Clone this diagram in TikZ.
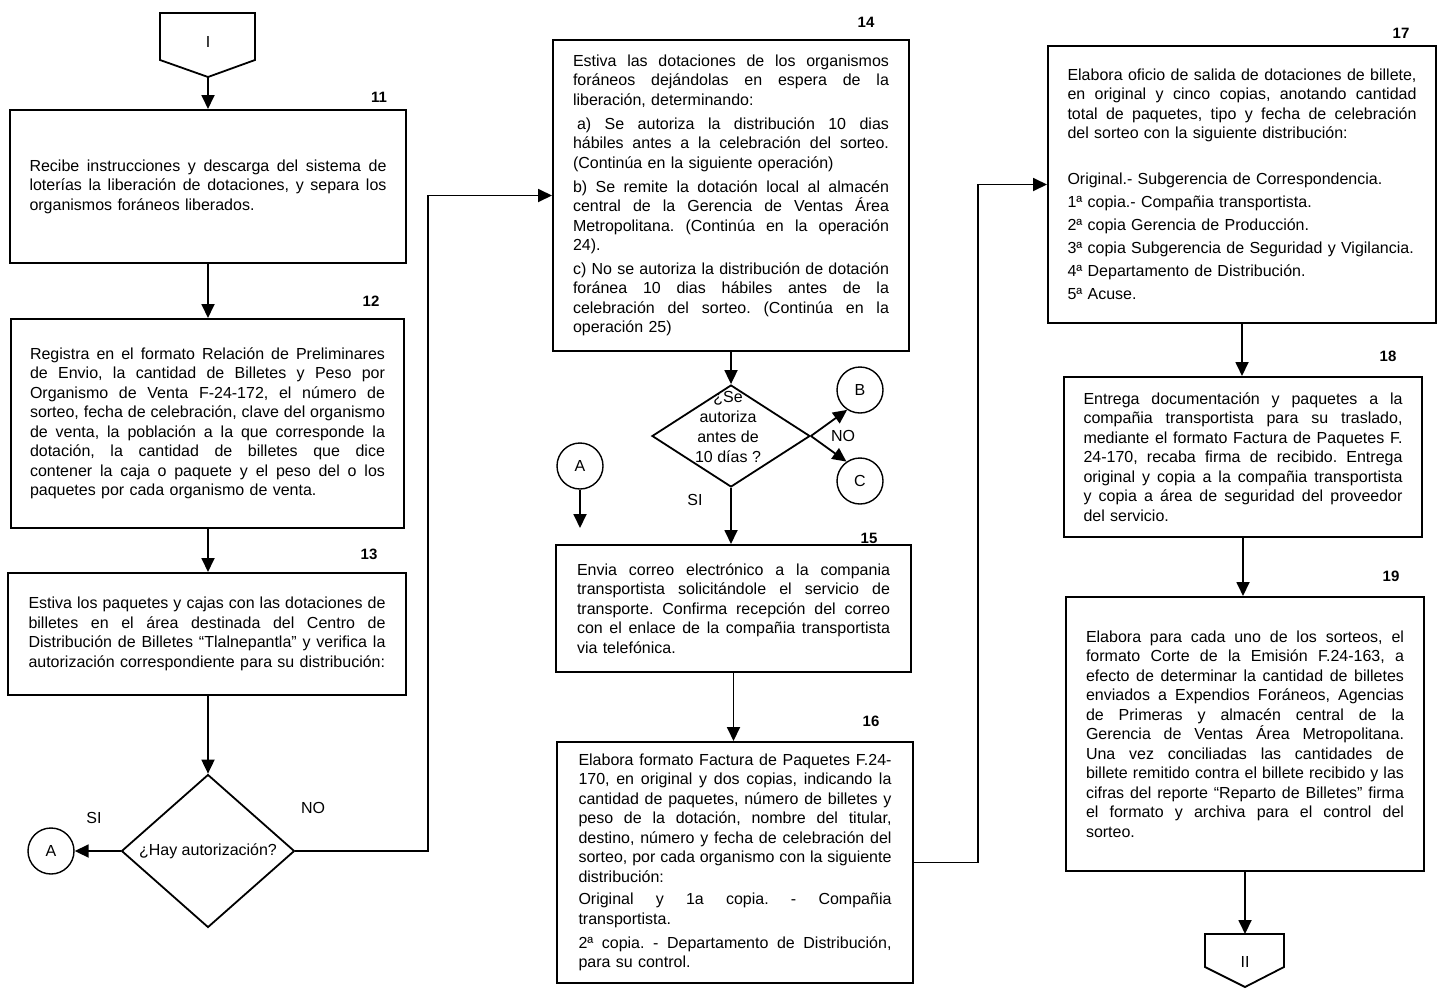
\documentclass[tikz,border=0pt]{standalone}
\usepackage{fontspec}
\setmainfont{Liberation Sans}
\usetikzlibrary{arrows.meta,shapes.geometric}

% body text of the process boxes
\newcommand\boxfont{\fontsize{16}{19.5}\selectfont\parindent=0pt\frenchspacing}
% width of the text block inside the current box
\newlength\lw
% one fully justified line
\newcommand\jl[1]{\noindent\hbox to \lw{\spaceskip=0.278em plus 1fil\relax #1}\par}
% extra space between paragraphs
\newcommand\pgap[1]{\par\vspace{#1}}

\begin{document}
\begin{tikzpicture}[x=1pt,y=-1pt,
  proc/.style={draw, line width=2pt, inner sep=0pt, font=\boxfont, align=left},
  conn/.style={draw, circle, line width=1.4pt, minimum size=46pt, inner sep=0pt,
               font=\fontsize{16}{19}\selectfont},
  dec/.style={draw, diamond, line width=1.8pt, inner sep=0pt},
  num/.style={font=\bfseries\fontsize{15}{18}\selectfont},
  lbl/.style={font=\fontsize{16}{19}\selectfont},
  arr/.style={line width=1.8pt, -{Triangle[length=14pt,width=13pt]}},
  ln/.style={line width=1.8pt, line join=miter},
]
\useasboundingbox (0,0) rectangle (1437,996);

% ---------- start connector ----------
\coordinate (Itip) at (208,77);
\draw[ln] (160,13) -- (255,13) -- (255,60) -- (Itip) -- (160,60) -- cycle;
\node[lbl] (Ilbl) at (208,42) {I};

% ---------- left column ----------
\node[num] (n11) at (379,97) {11};
\node[proc, minimum width=396pt, minimum height=153pt, text width=357pt] (b11) at (208,186.5) {%
\setlength\lw{357pt}%
\jl{Recibe instrucciones y descarga del sistema de}
\jl{loterías la liberación de dotaciones, y separa los}
organismos foráneos liberados.\par};

\node[num] (n12) at (371,301) {12};
\node[proc, minimum width=393pt, minimum height=209pt, text width=355pt] (b12) at (207.5,423.5) {%
\setlength\lw{355pt}%
\jl{Registra en el formato Relación de Preliminares}
\jl{de Envio, la cantidad de Billetes y Peso por}
\jl{Organismo de Venta F-24-172, el número de}
\jl{sorteo, fecha de celebración, clave del organismo}
\jl{de venta, la población a la que corresponde la}
\jl{dotación, la cantidad de billetes que dice}
\jl{contener la caja o paquete y el peso del o los}
paquetes por cada organismo de venta.\par};

\node[num] (n13) at (369,554) {13};
\node[proc, minimum width=398pt, minimum height=122pt, text width=357pt] (b13) at (207,634) {%
\setlength\lw{357pt}%
\jl{Estiva los paquetes y cajas con las dotaciones de}
\jl{billetes en el área destinada del Centro de}
\jl{Distribución de Billetes “Tlalnepantla” y verifica la}
autorización correspondiente para su distribución:\par};

\node[dec, minimum width=173pt, minimum height=143pt, font=\fontsize{16}{19}\selectfont]
  (d1) at (208,851) {¿Hay autorización?};
\node[conn] (A1) at (51,851) {A};
\node[lbl] (si1) at (94,818) {SI};
\node[lbl] (no1) at (313,808) {NO};

\draw[arr] (Itip) -- (b11.north);
\draw[arr] (b11.south) -- (b12.north -| b11.south);
\draw[arr] (b12.south -| b11.south) -- (b13.north -| b11.south);
\draw[arr] (b13.south -| d1.north) -- (d1.north);
\draw[arr] (d1.west) -- (A1.east);

% ---------- middle column ----------
\node[num] (n14) at (866,22) {14};
\node[proc, minimum width=356pt, minimum height=311pt, text width=316pt] (b14) at (731,195.5) {%
\setlength\lw{316pt}%
\jl{Estiva las dotaciones de los organismos}
\jl{foráneos dejándolas en espera de la}
liberación, determinando:\pgap{4.5pt}
\jl{\hspace*{4pt}a) Se autoriza la distribución 10 dias}
\jl{hábiles antes a la celebración del sorteo.}
(Continúa en la siguiente operación)\pgap{4.5pt}
\jl{b) Se remite la dotación local al almacén}
\jl{central de la Gerencia de Ventas Área}
\jl{Metropolitana. (Continúa en la operación}
24).\pgap{4pt}
\jl{c) No se autoriza la distribución de dotación}
\jl{foránea 10 dias hábiles antes de la}
\jl{celebración del sorteo. (Continúa en la}
operación 25)\par};

\node[dec, minimum width=158pt, minimum height=102pt] (d2) at (731,436) {};
\node[lbl, align=center, font=\fontsize{16}{19.7}\selectfont] (d2txt) at (728,427)
  {¿Se\\autoriza\\antes de\\10 días ?};
\node[conn] (B) at (860,390) {B};
\node[conn] (C) at (860,481) {C};
\node[lbl] (no2) at (843,436) {NO};
\node[lbl] (si2) at (695,500) {SI};

\node[conn] (A2) at (580,466) {A};
\coordinate (A2end) at (580,528);

\node[num] (n15) at (869,538) {15};
\node[proc, minimum width=355pt, minimum height=127pt, text width=313pt] (b15) at (733.5,608.5) {%
\setlength\lw{313pt}%
\jl{Envia correo electrónico a la compania}
\jl{transportista solicitándole el servicio de}
\jl{transporte. Confirma recepción del correo}
\jl{con el enlace de la compañia transportista}
via telefónica.\par};

\node[num] (n16) at (871,721) {16};
\node[proc, minimum width=356pt, minimum height=241pt, text width=313pt] (b16) at (735,862.5) {%
\setlength\lw{313pt}%
\jl{Elabora formato Factura de Paquetes F.24-}
\jl{170, en original y dos copias, indicando la}
\jl{cantidad de paquetes, número de billetes y}
\jl{peso de la dotación, nombre del titular,}
\jl{destino, número y fecha de celebración del}
\jl{sorteo, por cada organismo con la siguiente}
distribución:\pgap{3pt}
\jl{Original y 1a copia. - Compañia}
transportista.\pgap{4.5pt}
\jl{2ª copia. - Departamento de Distribución,}
para su control.\par};

% ---------- right column ----------
\node[num] (n17) at (1401,33) {17};
\node[proc, minimum width=388pt, minimum height=277pt, text width=349pt] (b17) at (1242,184.5) {%
\setlength\lw{349pt}%
\jl{Elabora oficio de salida de dotaciones de billete,}
\jl{en original y cinco copias, anotando cantidad}
\jl{total de paquetes, tipo y fecha de celebración}
del sorteo con la siguiente distribución:\par
\vspace{23pt}
{\fontsize{16}{23}\selectfont
Original.- Subgerencia de Correspondencia.\par
1ª copia.- Compañia transportista.\par
2ª copia Gerencia de Producción.\par
3ª copia Subgerencia de Seguridad y Vigilancia.\par
4ª Departamento de Distribución.\par
5ª Acuse.\par}};

\draw[arr] (d1.east) -- (428,851) |- (b14.west);
\draw[arr] (b14.south) -- (d2.north);
\draw[arr] (d2.east) -- (B.237);
\draw[arr] (d2.east) -- (C.125);
\draw[arr] (d2.south) -- (d2.south |- b15.north);
\draw[arr] (A2.south) -- (A2end);
\draw[arr] (b15.south) -- (b15.south |- b16.north);
\draw[arr] (b16.east) -- (978,862.5) |- (b17.west);

\node[num] (n18) at (1388,356) {18};
\node[proc, minimum width=358pt, minimum height=160pt, text width=319pt] (b18) at (1243,457) {%
\setlength\lw{319pt}%
\jl{Entrega documentación y paquetes a la}
\jl{compañia transportista para su traslado,}
\jl{mediante el formato Factura de Paquetes F.}
\jl{24-170, recaba firma de recibido. Entrega}
\jl{original y copia a la compañia transportista}
\jl{y copia a área de seguridad del proveedor}
del servicio.\par};

\node[num] (n19) at (1391,576) {19};
\node[proc, minimum width=358pt, minimum height=274pt, text width=318pt] (b19) at (1245,734) {%
\setlength\lw{318pt}%
\jl{Elabora para cada uno de los sorteos, el}
\jl{formato Corte de la Emisión F.24-163, a}
\jl{efecto de determinar la cantidad de billetes}
\jl{enviados a Expendios Foráneos, Agencias}
\jl{de Primeras y almacén central de la}
\jl{Gerencia de Ventas Área Metropolitana.}
\jl{Una vez conciliadas las cantidades de}
\jl{billete remitido contra el billete recibido y las}
\jl{cifras del reporte “Reparto de Billetes” firma}
\jl{el formato y archiva para el control del}
sorteo.\par};

% ---------- end connector ----------
\coordinate (IItop) at (1245,934);
\draw[ln] (1205,934) -- (1284,934) -- (1284,967) -- (1245,987) -- (1205,967) -- cycle;
\node[lbl] (IIlbl) at (1245,962) {II};

\draw[arr] (b17.south) -- (b17.south |- b18.north);
\draw[arr] (b18.south) -- (b18.south |- b19.north);
\draw[arr] (b19.south) -- (IItop);

\end{tikzpicture}
\end{document}
